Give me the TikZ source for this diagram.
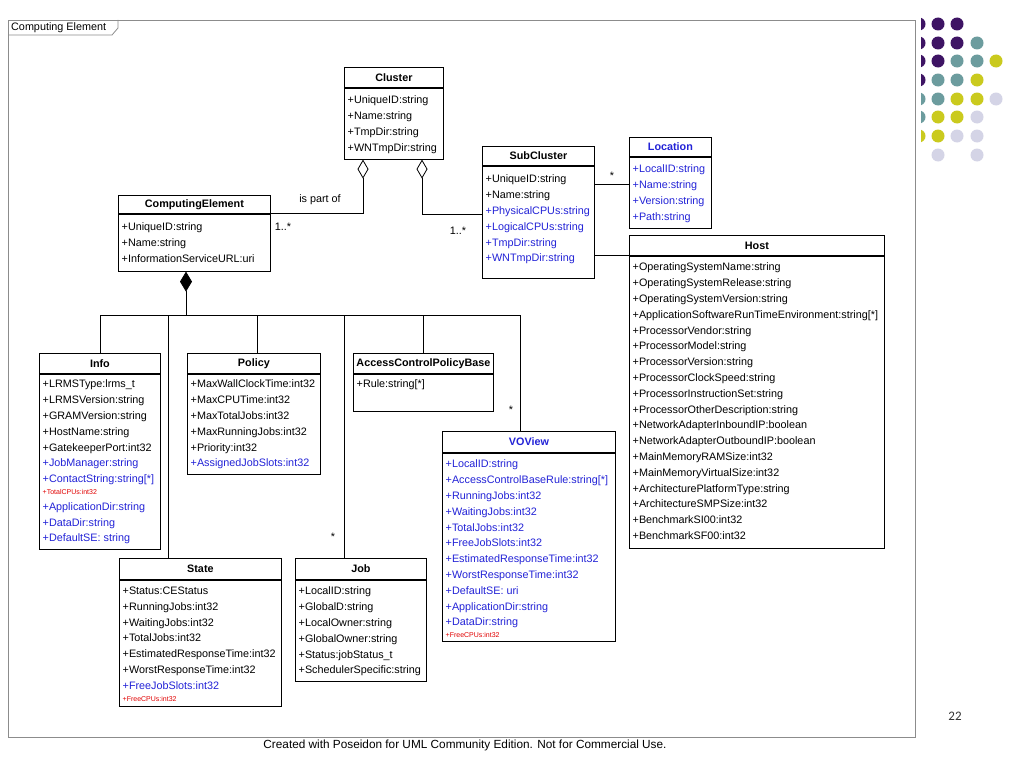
\documentclass[tikz,border=0pt]{standalone}
\usepackage{fontspec}
\setmainfont{Liberation Sans}
\newfontfamily\slidefont{Carlito}
\usepackage{tikz}
\usetikzlibrary{arrows.meta, positioning, calc}
\definecolor{umlblue}{RGB}{35,35,215}
\definecolor{umlred}{RGB}{225,0,0}
\definecolor{dotpurple}{RGB}{62,20,100}
\definecolor{dotteal}{RGB}{108,156,158}
\definecolor{dotyellow}{RGB}{202,202,30}
\definecolor{dotlilac}{RGB}{212,212,230}

\begin{document}
\begin{tikzpicture}[
    x=1pt, y=-1pt,
    every node/.style={font=\fontsize{10.8}{15.8}\selectfont},
    classhead/.style={draw, line width=0.8pt, anchor=north west, minimum height=20pt, inner sep=0pt, font=\fontsize{10.8}{13}\selectfont\bfseries},
    classbox/.style={draw, line width=0.8pt, inner sep=0pt},
    attrs/.style={anchor=north west, align=left, inner xsep=3.5pt, inner ysep=0pt},
    link/.style={line width=0.8pt},
    aggr/.style={{Diamond[open, length=19pt, width=11pt]}-, line width=0.8pt},
    comp/.style={{Diamond[length=20pt, width=12pt]}-, line width=0.8pt},
    mult/.style={inner sep=1pt},
]

\path[use as bounding box, fill=white] (0,0) rectangle (1024,768);

% Frame
\draw[black!45, line width=0.8pt] (8,20) rectangle (915,737);
\draw[black!45, line width=0.8pt] (8,35) -- (112,35) -- (118,28) -- (118,20);
\node[anchor=west, inner sep=0pt, font=\fontsize{10.8}{12}\selectfont] (frametab) at (11,28) {Computing Element};

% Cluster
\node[classhead, minimum width=99pt] (cluster) at (344,67) {Cluster};
\node[classbox, minimum width=99pt, minimum height=71pt, below=0pt of cluster] (clusterbox) {};
\node[attrs] (clustertxt) at ([yshift=-8pt]clusterbox.north west) {+UniqueID:string\\+Name:string\\+TmpDir:string\\+WNTmpDir:string};

% ComputingElement
\node[classhead, minimum width=152pt, minimum height=18pt] (ce) at (118,195) {ComputingElement};
\node[classbox, minimum width=152pt, minimum height=57pt, below=0pt of ce] (cebox) {};
\node[attrs] (cetxt) at ([yshift=-9pt]cebox.north west) {+UniqueID:string\\+Name:string\\+InformationServiceURL:uri};

% SubCluster
\node[classhead, minimum width=112pt, minimum height=19pt] (subcluster) at (482,146) {SubCluster};
\node[classbox, minimum width=112pt, minimum height=112pt, below=0pt of subcluster] (subclusterbox) {};
\node[attrs] (subclustertxt) at ([yshift=-9pt]subclusterbox.north west) {+UniqueID:string\\+Name:string\\
\textcolor{umlblue}{+PhysicalCPUs:string}\\\textcolor{umlblue}{+LogicalCPUs:string}\\
\textcolor{umlblue}{+TmpDir:string}\\\textcolor{umlblue}{+WNTmpDir:string}};

% Location
\node[classhead, minimum width=82pt, minimum height=19pt, text=umlblue] (location) at (629,137) {Location};
\node[classbox, minimum width=82pt, minimum height=71pt, below=0pt of location] (locationbox) {};
\node[attrs, text=umlblue] (locationtxt) at ([yshift=-8pt]locationbox.north west) {+LocalID:string\\+Name:string\\+Version:string\\+Path:string};

% Host
\node[classhead, minimum width=255pt] (host) at (629,235) {Host};
\node[classbox, minimum width=255pt, minimum height=292pt, below=0pt of host] (hostbox) {};
\node[attrs] (hosttxt) at ([yshift=-7pt]hostbox.north west) {+OperatingSystemName:string\\+OperatingSystemRelease:string\\
+OperatingSystemVersion:string\\+ApplicationSoftwareRunTimeEnvironment:string[*]\\
+ProcessorVendor:string\\+ProcessorModel:string\\+ProcessorVersion:string\\
+ProcessorClockSpeed:string\\+ProcessorInstructionSet:string\\+ProcessorOtherDescription:string\\
+NetworkAdapterInboundIP:boolean\\+NetworkAdapterOutboundIP:boolean\\
+MainMemoryRAMSize:int32\\+MainMemoryVirtualSize:int32\\+ArchitecturePlatformType:string\\
+ArchitectureSMPSize:int32\\+BenchmarkSI00:int32\\+BenchmarkSF00:int32};

% Info
\node[classhead, minimum width=121pt] (info) at (39,353) {Info};
\node[classbox, minimum width=121pt, minimum height=175pt, below=0pt of info] (infobox) {};
\node[attrs] (infotxt) at ([yshift=-6pt]infobox.north west) {+LRMSType:lrms\_t\\+LRMSVersion:string\\
+GRAMVersion:string\\+HostName:string\\+GatekeeperPort:int32\\
\textcolor{umlblue}{+JobManager:string}\\\textcolor{umlblue}{+ContactString:string[*]}\\[-4pt]
\textcolor{umlred}{\fontsize{7}{7}\selectfont +TotalCPUs:int32}\\
\textcolor{umlblue}{+ApplicationDir:string}\\\textcolor{umlblue}{+DataDir:string}\\
\textcolor{umlblue}{+DefaultSE: string}};

% Policy
\node[classhead, minimum width=133pt] (policy) at (187,353) {Policy};
\node[classbox, minimum width=133pt, minimum height=100pt, below=0pt of policy] (policybox) {};
\node[attrs] (policytxt) at ([yshift=-6pt]policybox.north west) {+MaxWallClockTime:int32\\+MaxCPUTime:int32\\
+MaxTotalJobs:int32\\+MaxRunningJobs:int32\\+Priority:int32\\\textcolor{umlblue}{+AssignedJobSlots:int32}};

% AccessControlPolicyBase
\node[classhead, minimum width=140pt] (acpb) at (353,353) {AccessControlPolicyBase};
\node[classbox, minimum width=140pt, minimum height=37pt, below=0pt of acpb] (acpbbox) {};
\node[attrs] (acpbtxt) at ([yshift=-6pt]acpbbox.north west) {+Rule:string[*]};

% VOView
\node[classhead, minimum width=173pt, minimum height=21pt, text=umlblue] (voview) at (442,431) {VOView};
\node[classbox, minimum width=173pt, minimum height=188pt, below=0pt of voview] (voviewbox) {};
\node[attrs, text=umlblue] (voviewtxt) at ([yshift=-7pt]voviewbox.north west) {+LocalID:string\\
+AccessControlBaseRule:string[*]\\+RunningJobs:int32\\+WaitingJobs:int32\\+TotalJobs:int32\\
+FreeJobSlots:int32\\+EstimatedResponseTime:int32\\+WorstResponseTime:int32\\+DefaultSE: uri\\
+ApplicationDir:string\\+DataDir:string\\[-4pt]
\textcolor{umlred}{\fontsize{7}{7}\selectfont +FreeCPUs:int32}};

% State
\node[classhead, minimum width=162pt, minimum height=21pt] (state) at (119,558) {State};
\node[classbox, minimum width=162pt, minimum height=126pt, below=0pt of state] (statebox) {};
\node[attrs] (statetxt) at ([yshift=-7pt]statebox.north west) {+Status:CEStatus\\+RunningJobs:int32\\
+WaitingJobs:int32\\+TotalJobs:int32\\+EstimatedResponseTime:int32\\+WorstResponseTime:int32\\
\textcolor{umlblue}{+FreeJobSlots:int32}\\[-4pt]
\textcolor{umlred}{\fontsize{7}{7}\selectfont +FreeCPUs:int32}};

% Job
\node[classhead, minimum width=131pt, minimum height=21pt] (job) at (295,558) {Job};
\node[classbox, minimum width=131pt, minimum height=101pt, below=0pt of job] (jobbox) {};
\node[attrs] (jobtxt) at ([yshift=-7pt]jobbox.north west) {+LocalID:string\\+GlobalD:string\\
+LocalOwner:string\\+GlobalOwner:string\\+Status:jobStatus\_t\\+SchedulerSpecific:string};

% Aggregations to Cluster
\draw[aggr] ([xshift=19pt]clusterbox.south west) |- (ce.south east);
\draw[aggr] ([xshift=78pt]clusterbox.south west) |- ([yshift=-49pt]subcluster.south west);
\node (partof) at (320,200) {is part of};
\node[mult] (ceend) at (283,227) {1..*};
\node[mult] (subend) at (458,231) {1..*};

% SubCluster links
\draw[link] ([yshift=-28pt]location.south west) coordinate (locjoin) -- (locjoin -| subclusterbox.east);
\node[mult] (locend) at (612,176) {*};
\draw[link] (host.south west) -- (host.south west -| subclusterbox.east);

% Composition bus
\draw[comp] ([xshift=68pt]cebox.south west) -- ++(0,44) coordinate (bus);
\draw[link] (bus) -| (info.north);
\draw[link] (bus) -| ([xshift=49pt]state.north west);
\draw[link] (bus) -| ([xshift=70pt]policy.north west);
\draw[link] (bus) -| ([xshift=49pt]job.north west);
\draw[link] (bus) -| (acpb.north);
\draw[link] (bus) -| ([xshift=78pt]voview.north west);
\node[mult] (jobend) at (333,537) {*};
\node[mult] (voend) at (511,410) {*};

% Footer
\node[font=\fontsize{11.8}{14}\selectfont] (credit) at (465,745) {Created with Poseidon for UML Community Edition. Not for Commercial Use.};
\node[font=\slidefont\fontsize{13}{15}\selectfont, text=black!80] (pagenum) at (955,716) {22};

% Slide dots
\begin{scope}
\clip (921,0) rectangle (1024,768);
\foreach \cx/\cy/\col in {919/24/dotpurple, 938/24/dotpurple, 957/24/dotpurple,
    919/43/dotpurple, 938/43/dotpurple, 957/43/dotpurple, 977/43/dotteal,
    919/61/dotpurple, 938/61/dotpurple, 957/61/dotteal, 977/61/dotteal, 996/61/dotyellow,
    919/80/dotpurple, 938/80/dotteal, 957/80/dotteal, 977/80/dotyellow,
    919/99/dotteal, 938/99/dotteal, 957/99/dotyellow, 977/99/dotyellow, 996/99/dotlilac,
    919/117/dotteal, 938/117/dotyellow, 957/117/dotyellow, 977/117/dotlilac,
    919/136/dotyellow, 938/136/dotyellow, 957/136/dotlilac, 977/136/dotlilac,
    938/155/dotlilac, 977/155/dotlilac}
  \fill[\col] (\cx,\cy) circle[radius=6.5pt];
\end{scope}

\end{tikzpicture}
\end{document}
